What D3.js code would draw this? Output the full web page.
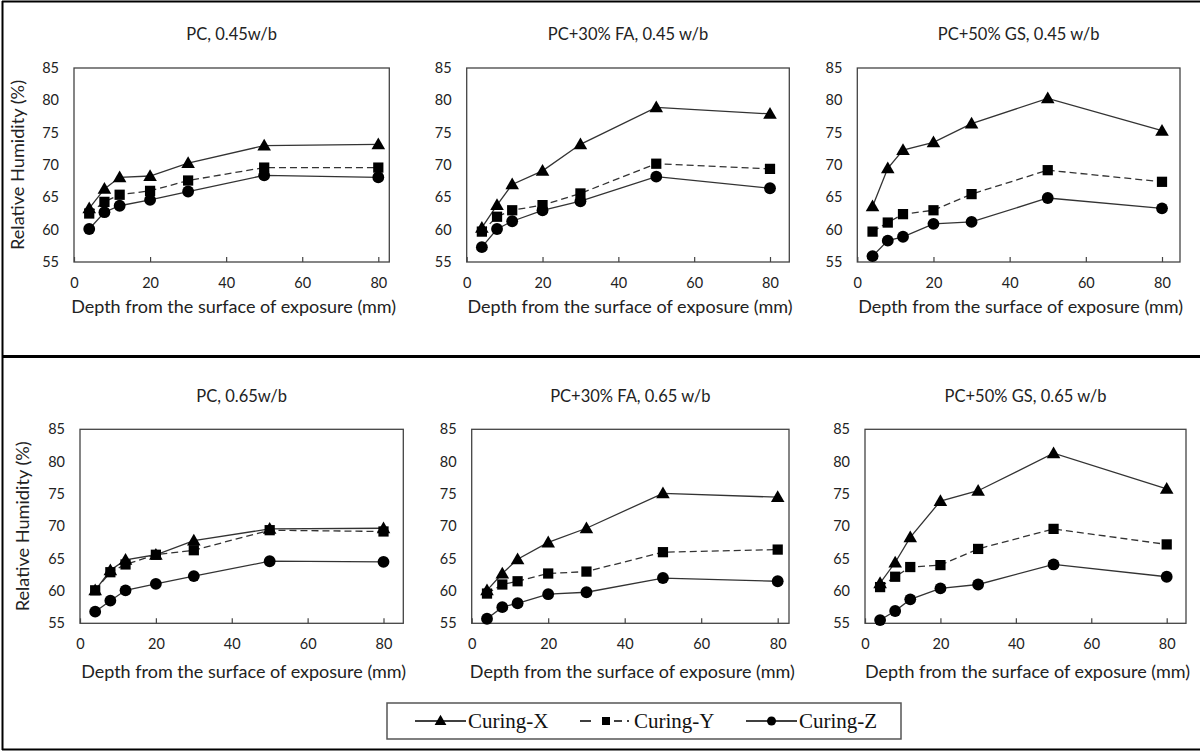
<!DOCTYPE html>
<html>
<head>
<meta charset="utf-8">
<script src="https://cdn.jsdelivr.net/npm/d3@7"></script>
<style>
  html, body { margin: 0; padding: 0; background: #fff; }
  svg { display: block; }
</style>
</head>
<body>
<svg id="chart" width="1200" height="751"></svg>
<script>
// ---------------- DATA ----------------
const depths = [4, 8, 12, 20, 30, 50, 80];
const seriesNames = ["Curing-X", "Curing-Y", "Curing-Z"];
const panelTitles = [
  "PC, 0.45w/b", "PC+30% FA, 0.45 w/b", "PC+50% GS, 0.45 w/b",
  "PC, 0.65w/b", "PC+30% FA, 0.65 w/b", "PC+50% GS, 0.65 w/b"
];
const xTicks = [0, 20, 40, 60, 80];
const yTicks = [55, 60, 65, 70, 75, 80, 85];

// values per panel: [Curing-X, Curing-Y, Curing-Z]
const pc045_X = [63.3, 66.3, 68.1, 68.3, 70.3, 73.0, 73.2];
const pc045_Y = [62.5, 64.3, 65.4, 66.0, 67.6, 69.6, 69.6];
const pc045_Z = [60.1, 62.7, 63.7, 64.6, 65.9, 68.4, 68.1];

const fa045_X = [60.3, 63.8, 67.0, 69.1, 73.2, 78.9, 77.9];
const fa045_Y = [59.7, 62.0, 63.0, 63.8, 65.6, 70.2, 69.4];
const fa045_Z = [57.3, 60.1, 61.3, 63.0, 64.4, 68.2, 66.4];

const gs045_X = [63.6, 69.5, 72.3, 73.5, 76.4, 80.3, 75.3];
const gs045_Y = [59.7, 61.1, 62.4, 63.0, 65.5, 69.2, 67.4];
const gs045_Z = [55.9, 58.3, 58.9, 60.9, 61.2, 64.9, 63.3];

const pc065_X = [60.1, 63.2, 64.8, 65.6, 67.8, 69.6, 69.7];
const pc065_Y = [60.1, 62.9, 64.1, 65.6, 66.3, 69.4, 69.2];
const pc065_Z = [56.8, 58.5, 60.1, 61.1, 62.3, 64.6, 64.5];

const fa065_X = [60.1, 62.7, 64.9, 67.5, 69.7, 75.1, 74.5];
const fa065_Y = [59.6, 61.0, 61.5, 62.7, 63.0, 66.0, 66.4];
const fa065_Z = [55.7, 57.5, 58.1, 59.5, 59.8, 62.0, 61.5];

const gs065_X = [61.2, 64.4, 68.3, 73.9, 75.5, 81.3, 75.8];
const gs065_Y = [60.6, 62.2, 63.7, 64.0, 66.5, 69.6, 67.2];
const gs065_Z = [55.5, 56.9, 58.7, 60.4, 61.0, 64.1, 62.2];

const panelData = [
  [pc045_X, pc045_Y, pc045_Z],
  [fa045_X, fa045_Y, fa045_Z],
  [gs045_X, gs045_Y, gs045_Z],
  [pc065_X, pc065_Y, pc065_Z],
  [fa065_X, fa065_Y, fa065_Z],
  [gs065_X, gs065_Y, gs065_Z]
];

// ---------------- LAYOUT ----------------
const layout = [
  {left: 74,  x80: 378.3, right: 389.3, top: 68,  bottom: 262, titleY: 34,  tickY: 282, labY: 307, showY: true,  yTitleX: 18},
  {left: 466.7, x80: 770, right: 789.3, top: 68, bottom: 262, titleY: 34,  tickY: 282, labY: 307, showY: false},
  {left: 857.3, x80: 1162, right: 1180, top: 68, bottom: 262, titleY: 34,  tickY: 282, labY: 307, showY: false},
  {left: 80,  x80: 383.5, right: 403.3, top: 429.3, bottom: 623.3, titleY: 396, tickY: 643, labY: 672, showY: true, yTitleX: 23},
  {left: 471.7, x80: 777.7, right: 789, top: 429.3, bottom: 623.3, titleY: 396, tickY: 643, labY: 672, showY: false},
  {left: 865, x80: 1166.7, right: 1186, top: 429.3, bottom: 623.3, titleY: 396, tickY: 643, labY: 672, showY: false}
];

const FONT = "Lato, 'Open Sans', sans-serif";
const TXT = "#222";
const LINE = "#333";
const svg = d3.select("#chart");

const symTypes = [d3.symbolTriangle, d3.symbolSquare, d3.symbolCircle];
const symSizes = [80, 105, 110];
const dashes = [null, "7,4", null];

function drawMarker(g, i, x, y) {
  g.append("path")
    .attr("d", d3.symbol().type(symTypes[i]).size(symSizes[i])())
    .attr("transform", `translate(${x},${y + (i === 0 ? 1 : 0)})`)
    .attr("fill", "#000");
}

// outer frame
svg.append("line").attr("x1", 2.5).attr("x2", 2.5).attr("y1", 1).attr("y2", 750).attr("stroke", "#000").attr("stroke-width", 2);
svg.append("line").attr("x1", 2).attr("x2", 1200).attr("y1", 1.5).attr("y2", 1.5).attr("stroke", "#000").attr("stroke-width", 2);
svg.append("line").attr("x1", 2).attr("x2", 1200).attr("y1", 749.5).attr("y2", 749.5).attr("stroke", "#000").attr("stroke-width", 2);
svg.append("line").attr("x1", 2).attr("x2", 1200).attr("y1", 356.5).attr("y2", 356.5).attr("stroke", "#000").attr("stroke-width", 3);

layout.forEach((L, p) => {
  const g = svg.append("g");
  const x = d3.scaleLinear().domain([0, 80]).range([L.left, L.x80]);
  const y = d3.scaleLinear().domain([55, 85]).range([L.bottom, L.top]);
  const cx = (L.left + L.right) / 2;

  // title
  g.append("text").attr("x", cx).attr("y", L.titleY).attr("dy", "0.35em")
    .attr("text-anchor", "middle").attr("font-family", FONT).attr("font-size", 16.5)
    .attr("fill", TXT).text(panelTitles[p]);

  // frame
  g.append("rect").attr("x", L.left).attr("y", L.top)
    .attr("width", L.right - L.left).attr("height", L.bottom - L.top)
    .attr("fill", "none").attr("stroke", "#444").attr("stroke-width", 1.3);

  // x axis ticks (inward) and labels
  const xAxis = d3.axisBottom(x).tickValues(xTicks).tickSizeInner(-5).tickSizeOuter(0).tickPadding(12);
  const xa = g.append("g").attr("transform", `translate(0,${L.bottom})`).call(xAxis);
  xa.select(".domain").remove();
  xa.selectAll(".tick line").attr("stroke", "#444").attr("stroke-width", 1.2);
  xa.selectAll(".tick text").attr("font-family", FONT).attr("font-size", 14.5).attr("fill", TXT)
    .attr("y", null).attr("dy", null)
    .attr("transform", `translate(0,${L.tickY - L.bottom})`).attr("dominant-baseline", "central");

  // y axis labels
  const yAxis = d3.axisLeft(y).tickValues(yTicks).tickSize(0).tickPadding(15);
  const ya = g.append("g").attr("transform", `translate(${L.left},0)`).call(yAxis);
  ya.select(".domain").remove();
  ya.selectAll(".tick text").attr("font-family", FONT).attr("font-size", 14.5).attr("fill", TXT);

  // x axis title
  g.append("text").attr("x", cx + 2).attr("y", L.labY).attr("dy", "0.35em")
    .attr("text-anchor", "middle").attr("font-family", FONT).attr("font-size", 16.5)
    .attr("textLength", 325).attr("lengthAdjust", "spacingAndGlyphs")
    .attr("fill", TXT).text("Depth from the surface of exposure (mm)");

  // y axis title
  if (L.showY) {
    const yc = (L.top + L.bottom) / 2;
    g.append("text").attr("transform", `translate(${L.yTitleX},${yc}) rotate(-90)`)
      .attr("dy", "0.35em").attr("text-anchor", "middle").attr("font-family", FONT)
      .attr("font-size", 16.5).attr("textLength", 170).attr("lengthAdjust", "spacingAndGlyphs")
      .attr("fill", TXT).text("Relative Humidity (%)");
  }

  // series
  const line = d3.line().x((d, i) => x(depths[i])).y(d => y(d));
  panelData[p].forEach((vals, s) => {
    g.append("path").datum(vals).attr("d", line)
      .attr("fill", "none").attr("stroke", LINE).attr("stroke-width", 1.3)
      .attr("stroke-dasharray", dashes[s]);
  });
  panelData[p].forEach((vals, s) => {
    vals.forEach((v, i) => drawMarker(g, s, x(depths[i]), y(v)));
  });
});

// legend
const lg = svg.append("g");
lg.append("rect").attr("x", 387).attr("y", 703).attr("width", 514).attr("height", 36)
  .attr("fill", "#fff").attr("stroke", "#555").attr("stroke-width", 1.5);
const legendItems = [
  {x1: 415, x2: 466, tx: 468},
  {x1: 580, x2: 632, tx: 634},
  {x1: 746, x2: 797, tx: 799}
];
const legY = 721;
legendItems.forEach((it, s) => {
  const ln = lg.append("line").attr("x1", it.x1).attr("x2", it.x2).attr("y1", legY).attr("y2", legY)
    .attr("stroke", "#000").attr("stroke-width", 1.3);
  if (s === 1) ln.attr("stroke-dasharray", "11,12,6,5,8,5,2,30");
  const mx = s === 1 ? 606 : (it.x1 + it.x2) / 2;
  lg.append("path")
    .attr("d", d3.symbol().type(symTypes[s]).size(s === 0 ? 60 : 64)())
    .attr("transform", `translate(${mx},${legY + (s === 0 ? 0.5 : 0)})`)
    .attr("fill", "#000");
  lg.append("text").attr("x", it.tx).attr("y", legY).attr("dy", "0.33em")
    .attr("font-family", "'Liberation Serif', 'Times New Roman', serif").attr("font-size", 21)
    .attr("fill", "#111").text(seriesNames[s]);
});
</script>
</body>
</html>
